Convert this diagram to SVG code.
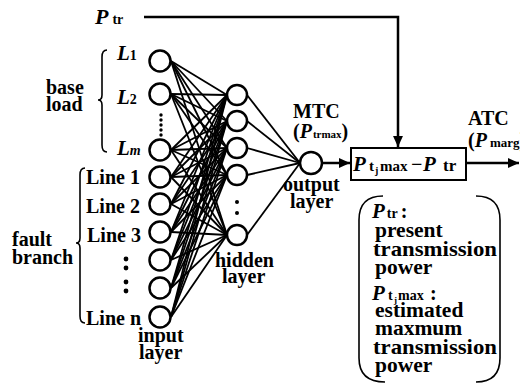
<svg xmlns="http://www.w3.org/2000/svg" width="520" height="385" viewBox="0 0 520 385">
<defs>
<style>
text{font-family:"Liberation Serif","Times New Roman",serif;font-weight:bold;font-size:20px;fill:#000}
.i{font-style:italic}
.s{font-size:13px}
.lg{font-size:21.5px}
.nd{fill:#fff;stroke:#000;stroke-width:2.5}
.c line{stroke:#000;stroke-width:1.8}
.br{fill:none;stroke:#000;stroke-width:1.6}
.ar{fill:none;stroke:#000;stroke-width:2.5}
.dot{fill:#000}
</style>
<marker id="ah" viewBox="0 0 10 10" refX="10" refY="5" markerWidth="11" markerHeight="11" markerUnits="userSpaceOnUse" orient="auto"><path d="M0,0.5 L10,5 L0,9.5 z" fill="#000"/></marker>
</defs>
<rect width="520" height="385" fill="#fff"/>

<g id="connectors" class="c">
<line x1="171" y1="61" x2="227" y2="95"/><line x1="171" y1="61" x2="227" y2="121"/><line x1="171" y1="61" x2="227" y2="148"/><line x1="171" y1="61" x2="227" y2="175"/><line x1="171" y1="61" x2="227" y2="235"/>
<line x1="171" y1="94" x2="227" y2="95"/><line x1="171" y1="94" x2="227" y2="121"/><line x1="171" y1="94" x2="227" y2="148"/><line x1="171" y1="94" x2="227" y2="175"/><line x1="171" y1="94" x2="227" y2="235"/>
<line x1="171" y1="150" x2="227" y2="95"/><line x1="171" y1="150" x2="227" y2="121"/><line x1="171" y1="150" x2="227" y2="148"/><line x1="171" y1="150" x2="227" y2="175"/><line x1="171" y1="150" x2="227" y2="235"/>
<line x1="171" y1="177" x2="227" y2="95"/><line x1="171" y1="177" x2="227" y2="121"/><line x1="171" y1="177" x2="227" y2="148"/><line x1="171" y1="177" x2="227" y2="175"/><line x1="171" y1="177" x2="227" y2="235"/>
<line x1="171" y1="204" x2="227" y2="95"/><line x1="171" y1="204" x2="227" y2="121"/><line x1="171" y1="204" x2="227" y2="148"/><line x1="171" y1="204" x2="227" y2="175"/><line x1="171" y1="204" x2="227" y2="235"/>
<line x1="171" y1="232" x2="227" y2="95"/><line x1="171" y1="232" x2="227" y2="121"/><line x1="171" y1="232" x2="227" y2="148"/><line x1="171" y1="232" x2="227" y2="175"/><line x1="171" y1="232" x2="227" y2="235"/>
<line x1="171" y1="260" x2="227" y2="95"/><line x1="171" y1="260" x2="227" y2="121"/><line x1="171" y1="260" x2="227" y2="148"/><line x1="171" y1="260" x2="227" y2="175"/><line x1="171" y1="260" x2="227" y2="235"/>
<line x1="171" y1="288" x2="227" y2="95"/><line x1="171" y1="288" x2="227" y2="121"/><line x1="171" y1="288" x2="227" y2="148"/><line x1="171" y1="288" x2="227" y2="175"/><line x1="171" y1="288" x2="227" y2="235"/>
<line x1="171" y1="317" x2="227" y2="95"/><line x1="171" y1="317" x2="227" y2="121"/><line x1="171" y1="317" x2="227" y2="148"/><line x1="171" y1="317" x2="227" y2="175"/><line x1="171" y1="317" x2="227" y2="235"/>
<line x1="247" y1="95" x2="300" y2="163"/><line x1="247" y1="121" x2="300" y2="163"/><line x1="247" y1="148" x2="300" y2="163"/><line x1="247" y1="175" x2="300" y2="163"/><line x1="247" y1="235" x2="300" y2="163"/>
<path class="ar" d="M144 17 H398 V147" marker-end="url(#ah)"/>
<path class="ar" d="M322 163 H350" marker-end="url(#ah)"/>
<path class="ar" d="M466 163 H519" marker-end="url(#ah)"/>
</g>

<g id="input-layer">
<circle class="nd" cx="160" cy="61" r="10.5"/>
<circle class="nd" cx="160" cy="94" r="10.5"/>
<circle class="nd" cx="160" cy="150" r="10.5"/>
<circle class="nd" cx="160" cy="177" r="10.5"/>
<circle class="nd" cx="160" cy="204" r="10.5"/>
<circle class="nd" cx="160" cy="232" r="10.5"/>
<circle class="nd" cx="160" cy="260" r="10.5"/>
<circle class="nd" cx="160" cy="288" r="10.5"/>
<circle class="nd" cx="160" cy="317" r="10.5"/>
<circle class="dot" cx="161" cy="115" r="1.7"/><circle class="dot" cx="161" cy="120" r="1.7"/><circle class="dot" cx="161" cy="125" r="1.7"/><circle class="dot" cx="161" cy="130" r="1.7"/><circle class="dot" cx="161" cy="135" r="1.7"/>
</g>

<g id="hidden-layer">
<circle class="nd" cx="237" cy="95" r="10"/>
<circle class="nd" cx="237" cy="121" r="10"/>
<circle class="nd" cx="237" cy="148" r="10"/>
<circle class="nd" cx="237" cy="175" r="10"/>
<circle class="nd" cx="237" cy="235" r="10"/>
<circle class="dot" cx="237" cy="202" r="2"/><circle class="dot" cx="237" cy="213" r="2"/>
</g>

<g id="output-layer">
<circle class="nd" cx="311" cy="163" r="11"/>
</g>

<g id="subtract-box">
<rect x="351" y="148" width="115" height="32" fill="#fff" stroke="#000" stroke-width="2"/>
<text y="171"><tspan class="i" x="353" font-size="21">P</tspan><tspan x="369" font-size="15">t</tspan><tspan x="375" font-size="10" dy="3">j</tspan><tspan x="380" font-size="15" dy="-3">max</tspan><tspan x="411">−</tspan><tspan class="i" x="423" font-size="21">P</tspan><tspan x="443" font-size="17">tr</tspan></text>
</g>

<g id="legend">
<path class="br" d="M383 196 Q359 196 359 220 V358 Q359 382 385 382"/>
<path class="br" d="M476 196 Q500 196 500 220 V358 Q500 382 476 382"/>
<text x="372" y="218"><tspan class="i" font-size="21">P</tspan><tspan font-size="14" dx="2">tr</tspan><tspan dx="3">:</tspan></text>
<text class="lg" x="375" y="237">present</text>
<text class="lg" x="373" y="256" textLength="124" lengthAdjust="spacingAndGlyphs">transmission</text>
<text class="lg" x="375" y="274">power</text>
<text y="300"><tspan class="i" x="372" font-size="21">P</tspan><tspan x="388" font-size="14">t</tspan><tspan x="394" font-size="9" dy="3">j</tspan><tspan x="398" font-size="14" dy="-3">max</tspan><tspan x="430">:</tspan></text>
<text class="lg" x="375" y="317">estimated</text>
<text class="lg" x="375" y="335">maxmum</text>
<text class="lg" x="373" y="354" textLength="124" lengthAdjust="spacingAndGlyphs">transmission</text>
<text class="lg" x="375" y="372">power</text>
</g>

<g id="labels">
<text x="95" y="24"><tspan class="i" font-size="22">P</tspan><tspan font-size="14" dx="4">tr</tspan></text>
<text x="117" y="60"><tspan class="i" font-size="21">L</tspan><tspan font-size="14">1</tspan></text>
<text x="117" y="104"><tspan class="i" font-size="21">L</tspan><tspan font-size="14">2</tspan></text>
<text x="117" y="155"><tspan class="i" font-size="21">L</tspan><tspan font-size="14" class="i">m</tspan></text>
<text x="46" y="94">base</text>
<text x="46" y="111">load</text>
<path class="br" d="M107 50 Q102 50 102 57 V95 Q102 100 98 100 Q102 100 102 105 V145 Q102 152 107 152"/>
<text x="86" y="184">Line 1</text>
<text x="86" y="213">Line 2</text>
<text x="87" y="242">Line 3</text>
<text x="86" y="325">Line n</text>
<circle class="dot" cx="126" cy="259" r="2.4"/><circle class="dot" cx="126" cy="268" r="2.4"/>
<circle class="dot" cx="126" cy="282" r="2.4"/><circle class="dot" cx="126" cy="291" r="2.4"/>
<text x="12" y="246">fault</text>
<text x="12" y="264">branch</text>
<path class="br" d="M85 168 Q80 168 80 175 V238 Q80 243 76 243 Q80 243 80 248 V316 Q80 323 85 323"/>
<text x="138" y="342">input</text>
<text x="139" y="359">layer</text>
<text x="215" y="267">hidden</text>
<text x="222" y="283">layer</text>
<text x="293" y="118">MTC</text>
<text x="293" y="138">(<tspan class="i">P</tspan><tspan font-size="11" dx="1">trmax</tspan>)</text>
<text x="283" y="191">output</text>
<text x="290" y="208">layer</text>
<text x="468" y="125">ATC</text>
<text x="468" y="147">(<tspan class="i">P</tspan><tspan font-size="13" dx="3">marg</tspan>)</text>
</g>
</svg>
